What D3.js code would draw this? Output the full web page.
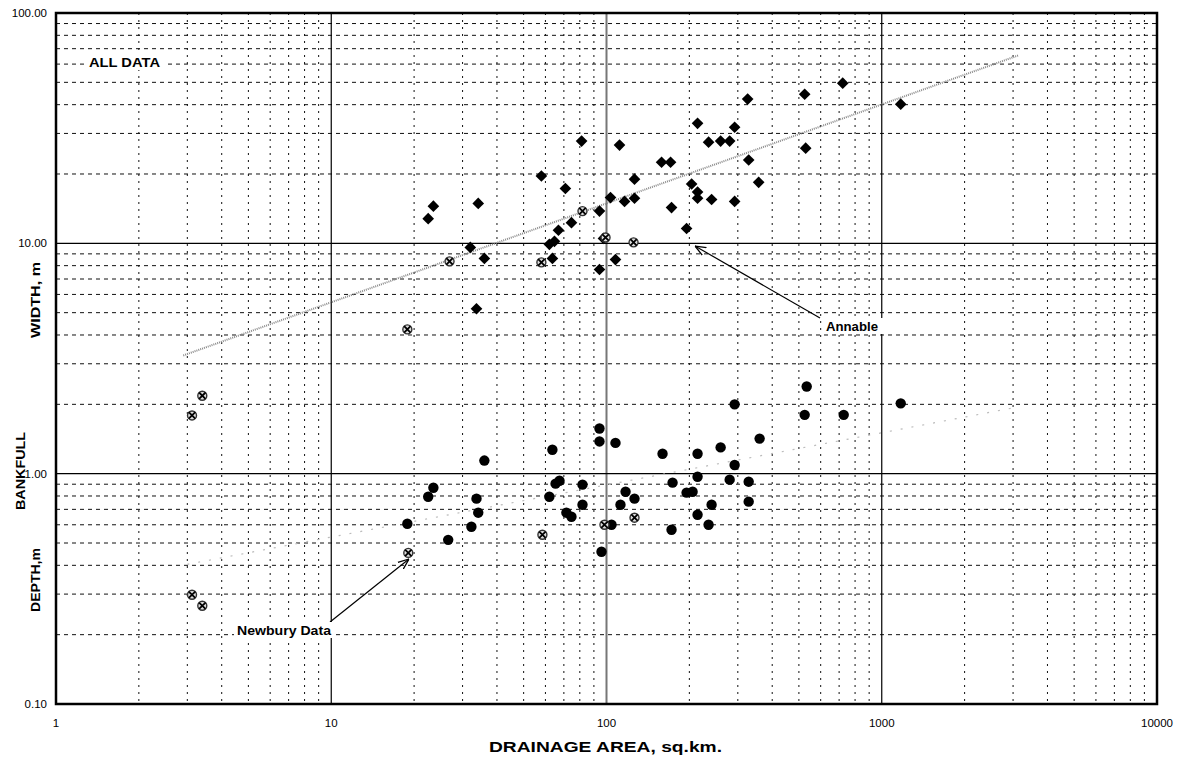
<!DOCTYPE html>
<html>
<head>
<meta charset="utf-8">
<script src="https://cdn.jsdelivr.net/npm/d3@7"></script>
<style>
  body { margin: 0; background: #fff; }
  svg text { font-family: "Liberation Sans", Arial, sans-serif; }
</style>
</head>
<body>
<svg id="chart" width="1183" height="763"></svg>
<script>
// drainage area (sq.km) and bankfull width (m), filled diamonds
const widthArea = [22.5, 23.5, 32.0, 34.2, 33.7, 36.0, 58.0, 62.0, 64.7, 63.6, 66.9, 70.9, 74.6, 81.2,
  94.3, 94.3, 97.5, 103.4, 111.5, 107.8, 116.3, 126.4, 126.4, 158.5, 170.9, 172.3, 195.4, 203.8,
  214.2, 214.2, 214.2, 234.9, 240.9, 259.8, 280.2, 292.1, 292.1, 328.5, 357.1, 325.7, 721.5,
  524.8, 1172, 529.2];
const widthVal = [12.8, 14.5, 9.6, 14.9, 5.2, 8.6, 19.6, 9.9, 10.2, 8.6, 11.4, 17.3, 12.3, 27.8,
  13.8, 7.7, 10.5, 15.8, 26.7, 8.5, 15.2, 19.0, 15.7, 22.5, 22.5, 14.3, 11.6, 18.1,
  33.2, 16.7, 15.7, 27.5, 15.5, 27.8, 27.8, 31.9, 15.2, 23.0, 18.4, 42.3, 49.6,
  44.4, 40.2, 25.9];

// Newbury width data, crossed circles
const nbWidthArea = [3.12, 3.40, 18.9, 26.9, 58.0, 81.8, 99.2, 125.4];
const nbWidthVal = [1.79, 2.18, 4.23, 8.35, 8.27, 13.8, 10.6, 10.1];

// bankfull depth (m), filled circles
const depthArea = [18.9, 22.5, 23.5, 26.6, 32.3, 33.7, 34.2, 36.0, 62.0, 63.6, 65.3, 67.5, 71.5, 74.6,
  81.8, 81.8, 94.3, 94.3, 95.9, 104.3, 107.8, 112.4, 117.3, 126.4, 159.8, 172.3, 173.8, 195.4,
  205.5, 214.2, 214.2, 214.2, 234.9, 240.9, 259.8, 280.2, 292.1, 292.1, 328.5, 328.5, 360,
  533.7, 524.8, 727.5, 1172];
const depthVal = [0.606, 0.794, 0.869, 0.516, 0.588, 0.779, 0.677, 1.14, 0.794, 1.27, 0.905, 0.932, 0.677, 0.650,
  0.896, 0.733, 1.57, 1.38, 0.458, 0.600, 1.36, 0.733, 0.835, 0.779, 1.22, 0.571, 0.914, 0.827,
  0.835, 1.22, 0.970, 0.663, 0.600, 0.733, 1.30, 0.942, 1.09, 2.0, 0.923, 0.756, 1.42,
  2.39, 1.80, 1.80, 2.02];

// Newbury depth data, crossed circles
const nbDepthArea = [3.12, 3.40, 19.05, 58.5, 98.3, 126.4];
const nbDepthVal = [0.298, 0.267, 0.453, 0.543, 0.600, 0.644];

// Annable trend lines: end points
const widthTrendArea = [2.9, 3150];
const widthTrendVal = [3.26, 65.6];
const depthTrendArea = [3.0, 3000];
const depthTrendVal = [0.404, 1.93];

const xTickVals = [1, 10, 100, 1000, 10000];
const yTickVals = [0.1, 1, 10, 100];
const yTickLabels = ["0.10", "1.00", "10.00", "100.00"];

const svg = d3.select("#chart");
const plotL = 56, plotR = 1157, plotT = 13, plotB = 704;

const x = d3.scaleLog().domain([1, 10000]).range([plotL, plotR]);
const y = d3.scaleLog().domain([0.1, 100]).range([plotB, plotT]);

// minor grid values
let minorX = [], minorY = [];
for (let d = 1; d < 10000; d *= 10) for (let k = 2; k <= 9; k++) minorX.push(d * k);
for (let d = 0.1; d < 99; d *= 10) for (let k = 2; k <= 9; k++) minorY.push(+(d * k).toFixed(3));

const grid = svg.append("g");
grid.selectAll(".mx").data(minorX).enter().append("line")
    .attr("x1", d => x(d)).attr("x2", d => x(d))
    .attr("y1", plotT).attr("y2", plotB)
    .attr("stroke", "#111").attr("stroke-width", 1)
    .attr("stroke-dasharray", "2,5");
grid.selectAll(".my").data(minorY).enter().append("line")
    .attr("x1", plotL).attr("x2", plotR)
    .attr("y1", d => y(d)).attr("y2", d => y(d))
    .attr("stroke", "#111").attr("stroke-width", 1)
    .attr("stroke-dasharray", "4,4");

// major grid
grid.selectAll(".Mx").data(xTickVals.slice(1, 4)).enter().append("line")
    .attr("x1", d => x(d)).attr("x2", d => x(d))
    .attr("y1", plotT).attr("y2", plotB)
    .attr("stroke", d => d === 100 ? "#777" : "#000")
    .attr("stroke-width", d => d === 100 ? 2 : 1.2);
grid.selectAll(".My").data(yTickVals.slice(1, 3)).enter().append("line")
    .attr("x1", plotL).attr("x2", plotR)
    .attr("y1", d => y(d)).attr("y2", d => y(d))
    .attr("stroke", "#000").attr("stroke-width", 1.2);

// trend lines
const line = d3.line().x(d => x(d[0])).y(d => y(d[1]));
svg.append("path")
    .attr("d", line(d3.zip(widthTrendArea, widthTrendVal)))
    .attr("fill", "none").attr("stroke", "#8a8a8a").attr("stroke-width", 2)
    .attr("stroke-dasharray", "1,1");
svg.append("path")
    .attr("d", line(d3.zip(depthTrendArea, depthTrendVal)))
    .attr("fill", "none").attr("stroke", "#bbb").attr("stroke-width", 1.2)
    .attr("stroke-dasharray", "2,9");

// frame
svg.append("rect")
    .attr("x", plotL).attr("y", plotT)
    .attr("width", plotR - plotL).attr("height", plotB - plotT)
    .attr("fill", "none").attr("stroke", "#000").attr("stroke-width", 2.5);

// markers
const square = d3.symbol().type(d3.symbolSquare).size(68);
svg.append("g").selectAll("path").data(d3.zip(widthArea, widthVal)).enter().append("path")
    .attr("d", square)
    .attr("transform", d => `translate(${x(d[0])},${y(d[1])}) rotate(45)`)
    .attr("fill", "#000");

svg.append("g").selectAll("circle").data(d3.zip(depthArea, depthVal)).enter().append("circle")
    .attr("cx", d => x(d[0])).attr("cy", d => y(d[1]))
    .attr("r", 5.2).attr("fill", "#000");

function crossed(area, vals) {
    const g = svg.append("g").selectAll("g").data(d3.zip(area, vals)).enter().append("g")
        .attr("transform", d => `translate(${x(d[0])},${y(d[1])})`);
    g.append("circle").attr("r", 4.5).attr("fill", "#ddd")
        .attr("stroke", "#333").attr("stroke-width", 1.4);
    g.append("path").attr("d", "M-3.2,-3.2L3.2,3.2M-3.2,3.2L3.2,-3.2")
        .attr("stroke", "#000").attr("stroke-width", 1.8);
}
crossed(nbWidthArea, nbWidthVal);
crossed(nbDepthArea, nbDepthVal);

// tick labels
svg.append("g").selectAll("text").data(xTickVals).enter().append("text")
    .attr("x", d => x(d)).attr("y", 727)
    .attr("text-anchor", "middle").attr("font-size", 11.5)
    .text(d => d);
svg.append("g").selectAll("text").data(yTickVals).enter().append("text")
    .attr("x", 47).attr("y", d => y(d) + 4)
    .attr("text-anchor", "end").attr("font-size", 11.5)
    .text((d, i) => yTickLabels[i]);

// axis titles
svg.append("text")
    .attr("x", 489).attr("y", 752)
    .attr("font-size", 15).attr("font-weight", "bold")
    .attr("textLength", 233).attr("lengthAdjust", "spacingAndGlyphs")
    .text("DRAINAGE AREA, sq.km.");

// [text, top end, x, length]
const yTitles = [["WIDTH, m", 338, 40, 76], ["BANKFULL", 510, 25, 78], ["DEPTH,m", 612, 40, 64]];
yTitles.forEach(t => {
    svg.append("text")
        .attr("transform", `translate(${t[2]},${t[1]}) rotate(-90)`)
        .attr("font-size", 13).attr("font-weight", "bold")
        .attr("textLength", t[3]).attr("lengthAdjust", "spacingAndGlyphs")
        .text(t[0]);
});

// annotations
svg.append("rect").attr("x", 86).attr("y", 52).attr("width", 78).attr("height", 18).attr("fill", "#fff");
svg.append("text").attr("x", 89).attr("y", 67)
    .attr("font-size", 13).attr("font-weight", "bold")
    .attr("textLength", 71).attr("lengthAdjust", "spacingAndGlyphs")
    .text("ALL DATA");

const defs = svg.append("defs");
defs.append("marker").attr("id", "arr")
    .attr("viewBox", "0 0 10 10").attr("refX", 10).attr("refY", 5)
    .attr("markerWidth", 9).attr("markerHeight", 9).attr("orient", "auto")
    .append("path").attr("d", "M0,1L10,5L0,9").attr("fill", "none")
    .attr("stroke", "#000").attr("stroke-width", 1.2);

svg.append("line").attr("x1", 820).attr("y1", 318).attr("x2", 695).attr("y2", 246)
    .attr("stroke", "#000").attr("stroke-width", 1.2).attr("marker-end", "url(#arr)");
svg.append("rect").attr("x", 823).attr("y", 318).attr("width", 60).attr("height", 16).attr("fill", "#fff");
svg.append("text").attr("x", 826).attr("y", 331)
    .attr("font-size", 12).attr("font-weight", "bold")
    .attr("textLength", 52).attr("lengthAdjust", "spacingAndGlyphs")
    .text("Annable");

svg.append("line").attr("x1", 330).attr("y1", 622).attr("x2", 409).attr("y2", 559)
    .attr("stroke", "#000").attr("stroke-width", 1.2).attr("marker-end", "url(#arr)");
svg.append("rect").attr("x", 234).attr("y", 622).attr("width", 99).attr("height", 16).attr("fill", "#fff");
svg.append("text").attr("x", 237).attr("y", 635)
    .attr("font-size", 12).attr("font-weight", "bold")
    .attr("textLength", 94).attr("lengthAdjust", "spacingAndGlyphs")
    .text("Newbury Data");
</script>
</body>
</html>
